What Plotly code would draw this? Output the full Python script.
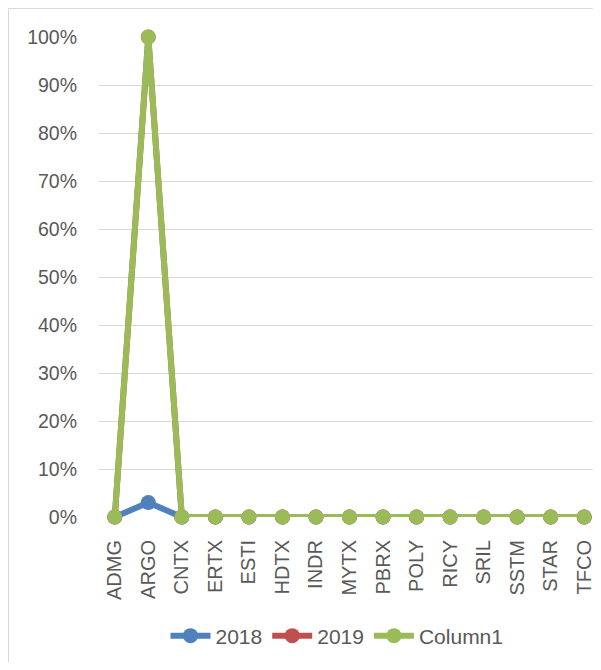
import plotly.graph_objects as go

categories = ["ADMG", "ARGO", "CNTX", "ERTX", "ESTI", "HDTX", "INDR", "MYTX",
              "PBRX", "POLY", "RICY", "SRIL", "SSTM", "STAR", "TFCO"]
s2018 = [0, 0.03, 0, 0, 0, 0, 0, 0, 0, 0, 0, 0, 0, 0, 0]
s2019 = [0, 1.0, 0, 0, 0, 0, 0, 0, 0, 0, 0, 0, 0, 0, 0]
column1 = [0, 1.0, 0, 0, 0, 0, 0, 0, 0, 0, 0, 0, 0, 0, 0]

series = [("2018", s2018, "#4F81BD"), ("2019", s2019, "#C0504D"), ("Column1", column1, "#9BBB59")]

fig = go.Figure()
for name, vals, col in series:
    fig.add_trace(go.Scatter(
        x=categories, y=vals, name=name, mode="lines+markers",
        line=dict(color=col, width=6),
        marker=dict(color=col, size=15, symbol="circle"),
        cliponaxis=False,
    ))

# page has an 8px body margin; figure coords = page coords - 8
W, H = 593, 654
L, T, B_PLOT = 90, 29, 509
PW = W - L
PH = B_PLOT - T

font = "Liberation Sans, Arial, sans-serif"
fig.update_layout(
    width=W, height=H,
    margin=dict(l=L, r=0, t=T, b=H - B_PLOT),
    paper_bgcolor="white", plot_bgcolor="white",
    font=dict(family=font, size=19, color="#595959"),
    showlegend=True,
    legend=dict(orientation="h", x=(329 - L) / PW, xanchor="center",
                y=-(628 - B_PLOT) / PH, yanchor="middle",
                font=dict(size=21, color="#595959"), itemwidth=40, traceorder="normal"),
    xaxis=dict(type="category", range=[-0.5, 14.5], tickangle=-90,
               showgrid=False, showline=False, zeroline=False, ticks="",
               ticklabelstandoff=18,
               tickfont=dict(size=20, color="#595959")),
    yaxis=dict(range=[0, 1], dtick=0.1, tickformat=".0%", showgrid=True,
               gridcolor="#D9D9D9", gridwidth=1.3, zeroline=False, showline=False,
               ticks="", ticklabelstandoff=20, tickfont=dict(size=19.5, color="#595959")),
    shapes=[dict(type="rect", xref="paper", yref="paper",
                 x0=(0.5 - L) / PW, x1=1.2, y0=-(700 - B_PLOT) / PH, y1=(B_PLOT - 0.5) / PH,
                 line=dict(color="#D9D9D9", width=1), layer="below")],
)
fig.write_html("out.html")
